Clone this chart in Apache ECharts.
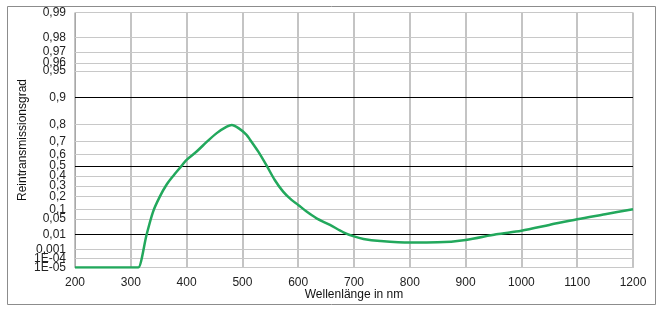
<!DOCTYPE html>
<html>
<head>
<meta charset="utf-8">
<script src="https://cdn.jsdelivr.net/npm/echarts@6/dist/echarts.min.js"></script>
<style>
html,body{margin:0;padding:0;background:#fff;}
#main{width:664px;height:312px;}
</style>
</head>
<body>
<div id="main"></div>
<script>
// measured curve: wavelength (nm) and reintransmission degree
const wavelengths = [200, 300, 312, 313.5, 328.5, 340, 352, 364, 376, 391, 400, 418, 436, 454, 472, 481, 493, 507, 514, 528.5, 543.5, 558, 573, 588, 600, 615, 633, 657, 681, 700, 717, 747, 800, 850, 900, 955, 1000, 1050, 1100, 1150, 1200];
const transmission = [1e-5, 1e-5, 1e-5, 1e-5, 0.01, 0.085, 0.2, 0.31, 0.4, 0.5, 0.55, 0.62, 0.697, 0.747, 0.785, 0.795, 0.776, 0.739, 0.709, 0.619, 0.502, 0.356, 0.242, 0.167, 0.127, 0.085, 0.053, 0.027, 0.0124, 0.0072, 0.0049, 0.0036, 0.0028, 0.0029, 0.0042, 0.01, 0.0146, 0.027, 0.05, 0.0705, 0.1];

// y axis tick values and their labels
const yTicks = [1e-5, 1e-4, 0.001, 0.01, 0.05, 0.1, 0.2, 0.3, 0.4, 0.5, 0.6, 0.7, 0.8, 0.9, 0.95, 0.96, 0.97, 0.98, 0.99];
const yLabels = ['1E-05', '1E-04', '0,001', '0,01', '0,05', '0,1', '0,2', '0,3', '0,4', '0,5', '0,6', '0,7', '0,8', '0,9', '0,95', '0,96', '0,97', '0,98', '0,99'];
// the nonlinear axis: where each tick sits on a 0..254.8 scale
const yScaleStops = [0, 9, 18.2, 33.2, 48.3, 58.2, 70.8, 81.5, 91.5, 101.5, 113.2, 125.8, 143.2, 170, 196.5, 204.2, 215.2, 229.8, 254.8];
const boldTicks = [0.01, 0.5, 0.9];

function toAxis(v) {
	if (v <= yTicks[0]) return yScaleStops[0];
	for (let i = 1; i < yTicks.length; i++) {
		if (v <= yTicks[i]) {
			let a = Math.log10(yTicks[i - 1]), b = Math.log10(yTicks[i]);
			let f = (Math.log10(v) - a) / (b - a);
			return yScaleStops[i - 1] + f * (yScaleStops[i] - yScaleStops[i - 1]);
		}
	}
	return yScaleStops[yScaleStops.length - 1];
}

function labelFor(val) {
	let best = 0;
	for (let i = 0; i < yScaleStops.length; i++) {
		if (Math.abs(yScaleStops[i] - val) < Math.abs(yScaleStops[best] - val)) best = i;
	}
	return yLabels[best];
}

let myChart = echarts.init(document.getElementById('main'), null, {renderer: 'canvas'});
let font = 'Liberation Sans, Arial, sans-serif';

let seriesData = wavelengths.map((w, i) => [w, toAxis(transmission[i])]);
let gridLines = yTicks.map((t, i) => ({
	yAxis: yScaleStops[i],
	lineStyle: {
		color: boldTicks.indexOf(t) >= 0 ? '#000' : '#c8c8c8',
		width: 1,
		type: 'solid'
	}
}));

// labels split over two stacked axes so the crowded bottom ones all show
let evenStops = yScaleStops.filter((s, i) => i % 2 === 0);
let oddStops = yScaleStops.filter((s, i) => i % 2 === 1);

let yLabelStyle = {
	showMinLabel: true,
	showMaxLabel: true,
	hideOverlap: false,
	fontFamily: font,
	fontSize: 12,
	color: '#222',
	margin: 9,
	formatter: labelFor
};

let option = {
	animation: false,
	backgroundColor: '#fff',
	graphic: [{
		type: 'rect',
		shape: {x: 7.5, y: 6.5, width: 648, height: 298},
		style: {fill: null, stroke: '#8c8c8c', lineWidth: 1},
		z: -1
	}],
	grid: {left: 75, right: 31, top: 12.5, bottom: 44.5},
	xAxis: {
		type: 'value',
		min: 200,
		max: 1200,
		interval: 100,
		name: 'Wellenlänge in nm',
		nameLocation: 'middle',
		nameGap: 21,
		nameMoveOverlap: false,
		nameTextStyle: {fontFamily: font, fontSize: 12, color: '#111'},
		axisLine: {lineStyle: {color: '#a8a8a8', width: 1}},
		axisTick: {show: false},
		axisLabel: {
			fontFamily: font, fontSize: 12, color: '#222', margin: 9,
			formatter: (v) => String(v)
		},
		splitLine: {show: true, lineStyle: {color: '#b0b0b0', width: 1.5}}
	},
	yAxis: [{
		type: 'value',
		position: 'left',
		min: 0,
		max: yScaleStops[yScaleStops.length - 1],
		name: 'Reintransmissionsgrad',
		nameLocation: 'middle',
		nameGap: 46,
		nameMoveOverlap: false,
		nameTextStyle: {fontFamily: font, fontSize: 12, color: '#111'},
		axisLine: {show: true, lineStyle: {color: '#a8a8a8', width: 1}},
		axisTick: {show: false},
		splitLine: {show: false},
		axisLabel: Object.assign({customValues: evenStops}, yLabelStyle)
	}, {
		type: 'value',
		position: 'left',
		offset: 0,
		min: 0,
		max: yScaleStops[yScaleStops.length - 1],
		axisLine: {show: false},
		axisTick: {show: false},
		splitLine: {show: false},
		axisLabel: Object.assign({customValues: oddStops}, yLabelStyle)
	}],
	series: [{
		type: 'line',
		data: seriesData,
		smooth: 0.3,
		symbol: 'none',
		lineStyle: {color: '#22a85c', width: 2.5},
		z: 5,
		markLine: {
			silent: true,
			symbol: 'none',
			label: {show: false},
			animation: false,
			data: gridLines,
			z: 1
		}
	}]
};
myChart.setOption(option);
</script>
</body>
</html>
